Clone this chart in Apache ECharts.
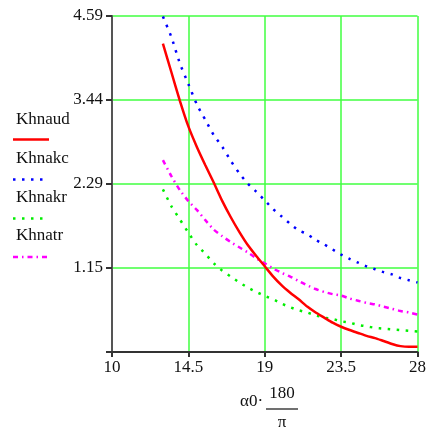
<!DOCTYPE html>
<html>
<head>
<meta charset="utf-8">
<script src="https://cdn.jsdelivr.net/npm/echarts@6/dist/echarts.min.js"></script>
<style>html,body{margin:0;padding:0;background:#fff}#c{width:429px;height:432px}</style>
</head>
<body>
<div id="c"></div>
<script>
// ---- data ----
const xValues = [13,13.5,14,14.5,15,15.5,16,16.5,17,17.5,18,18.5,19,19.5,20,20.5,21,21.5,22,22.5,23,23.5,24,24.5,25,25.5,26,26.5,27,27.5,28];
const khnaud = [4.21,3.82,3.43,3.08,2.80,2.55,2.31,2.06,1.84,1.64,1.46,1.31,1.17,1.03,0.91,0.81,0.72,0.62,0.54,0.47,0.40,0.345,0.30,0.26,0.22,0.19,0.15,0.11,0.08,0.07,0.07];
const khnakc = [4.58,4.30,3.94,3.66,3.38,3.17,2.96,2.80,2.61,2.44,2.30,2.19,2.07,1.95,1.85,1.75,1.66,1.61,1.53,1.47,1.40,1.33,1.27,1.22,1.17,1.13,1.09,1.06,1.01,0.98,0.95];
const khnakr = [2.22,1.99,1.81,1.63,1.46,1.34,1.21,1.11,1.03,0.95,0.88,0.82,0.765,0.72,0.66,0.61,0.57,0.54,0.50,0.47,0.45,0.42,0.40,0.37,0.35,0.33,0.32,0.31,0.30,0.29,0.28];
const khnatr = [2.62,2.40,2.21,2.06,1.94,1.80,1.67,1.58,1.50,1.43,1.36,1.28,1.21,1.14,1.08,1.03,0.97,0.91,0.86,0.82,0.79,0.77,0.73,0.70,0.67,0.65,0.62,0.59,0.56,0.54,0.51];
const xTicks = [10,14.5,19,23.5,28];
const xTickLabels = ['10','14.5','19','23.5','28'];
const yTicks = [0,1.147,2.294,3.441,4.588];
const yTickLabels = ['','1.15','2.29','3.44','4.59'];
const seriesNames = ['Khnaud','Khnakc','Khnakr','Khnatr'];

const FONT = '"Liberation Serif","Times New Roman",serif';
const TXT = '#111';
const GRID = '#40ff40';
const pairs = arr => xValues.map((x,i)=>[x,arr[i]]);
const lbl = (ticks, labels) => v => {
  let best = 0;
  for (let i=1;i<ticks.length;i++) if (Math.abs(ticks[i]-v) < Math.abs(ticks[best]-v)) best = i;
  return labels[best];
};

const chart = echarts.init(document.getElementById('c'), null, {renderer:'canvas'});
const legendY = [120,159,197.5,236];
const sampleY = [139.5,179.5,218.5,257];
const styles = [
  {color:'#ff0000', width:2.5, type:'solid'},
  {color:'#0000ff', width:2.5, type:[2.5,6.5]},
  {color:'#00ee00', width:2.5, type:[2.5,6.5]},
  {color:'#ff00ff', width:2.5, type:[5,4,1.5,4]}
];
const graphics = [];
seriesNames.forEach((n,i)=>{
  graphics.push({type:'text', x:16, y:legendY[i], style:{text:n, font:'17px '+FONT, fill:TXT, verticalAlign:'middle'}});
  graphics.push({type:'line', shape:{x1:13,y1:sampleY[i],x2:49,y2:sampleY[i]},
    style:{stroke:styles[i].color, lineWidth:styles[i].width, lineDash: styles[i].type==='solid'?null:styles[i].type}});
});
// axis title  α0·180/π
graphics.push({type:'text', x:240, y:402, style:{text:'\u03B10\u00B7', font:'17px '+FONT, fill:TXT, verticalAlign:'middle'}});
graphics.push({type:'text', x:282, y:394, style:{text:'180', font:'17px '+FONT, fill:TXT, align:'center', verticalAlign:'middle'}});
graphics.push({type:'line', shape:{x1:266,y1:409,x2:298,y2:409}, style:{stroke:TXT, lineWidth:1.2}});
graphics.push({type:'text', x:282, y:423, style:{text:'\u03C0', font:'17px '+FONT, fill:TXT, align:'center', verticalAlign:'middle'}});

chart.setOption({
  animation:false,
  backgroundColor:'#fff',
  grid:{left:112, right:9, top:16, bottom:80, containLabel:false},
  xAxis:{
    type:'value', min:10, max:28,
    axisLine:{show:true, onZero:false, lineStyle:{color:'#333', width:2}},
    axisTick:{show:true, length:5, customValues:xTicks, lineStyle:{color:'#333', width:2}},
    axisLabel:{customValues:xTicks, formatter:lbl(xTicks,xTickLabels), margin:7, fontSize:17, fontFamily:FONT, color:TXT, showMinLabel:true, showMaxLabel:true},
    splitLine:{show:true, lineStyle:{color:GRID, width:1.5}}
  },
  yAxis:{
    type:'value', min:0, max:4.588,
    axisLine:{show:true, onZero:false, lineStyle:{color:'#555', width:2}},
    axisTick:{show:true, length:6, customValues:yTicks, lineStyle:{color:'#333', width:2}},
    axisLabel:{customValues:yTicks, formatter:lbl(yTicks,yTickLabels), margin:9, fontSize:17, fontFamily:FONT, color:TXT, showMinLabel:true, showMaxLabel:true},
    splitLine:{show:true, lineStyle:{color:GRID, width:1.5}}
  },
  series:[khnaud,khnakc,khnakr,khnatr].map((arr,i)=>({
    name:seriesNames[i], type:'line', data:pairs(arr), showSymbol:false, smooth:0.2,
    lineStyle:{color:styles[i].color, width:styles[i].width, type:styles[i].type},
    z: 3 + (i===0?1:0)
  })),
  graphic:graphics
});
</script>
</body>
</html>
